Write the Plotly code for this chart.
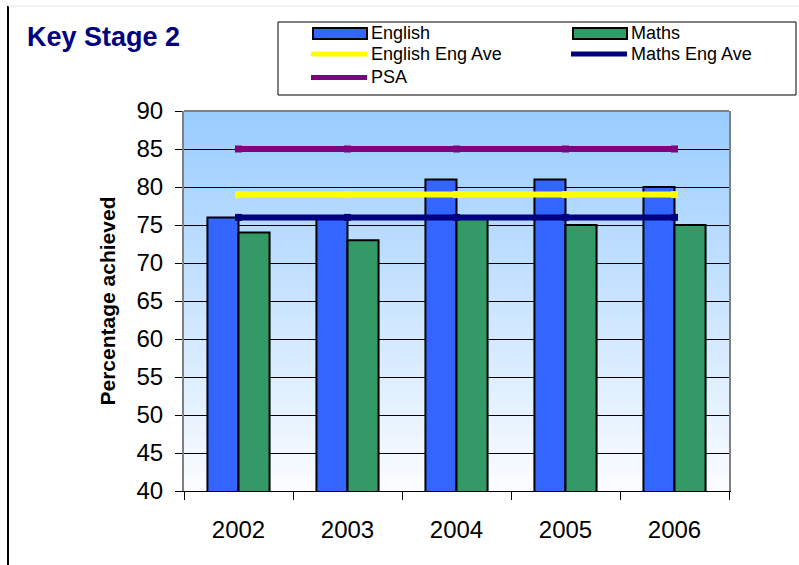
import plotly.graph_objects as go

# Key Stage 2 results by year
years = ["2002", "2003", "2004", "2005", "2006"]
english = [76, 76, 81, 81, 80]
maths = [74, 73, 76, 75, 75]
english_eng_ave = [79, 79, 79, 79, 79]
maths_eng_ave = [76, 76, 76, 76, 76]
psa = [85, 85, 85, 85, 85]
y_ticks = [40, 45, 50, 55, 60, 65, 70, 75, 80, 85, 90]

FONT = "Liberation Sans, Arial, sans-serif"
W, H = 799, 565
L, R, T, B = 184, 70, 111, 74
PW, PH = W - L - R, H - T - B


def px(x):
    """Pixel x -> paper x."""
    return (x - L) / PW


def py(y):
    """Pixel y -> paper y."""
    return (T + PH - y) / PH


C_ENG = "#3366FF"
C_MATHS = "#339966"
C_ENG_AVE = "#FFFF00"
C_MATHS_AVE = "#000080"
C_PSA = "#800080"

fig = go.Figure()
fig.add_trace(go.Bar(x=years, y=english, name="English",
                     marker=dict(color=C_ENG, line=dict(color="black", width=2))))
fig.add_trace(go.Bar(x=years, y=maths, name="Maths",
                     marker=dict(color=C_MATHS, line=dict(color="black", width=2))))
for vals, name, col in [(psa, "PSA", C_PSA),
                        (english_eng_ave, "English Eng Ave", C_ENG_AVE),
                        (maths_eng_ave, "Maths Eng Ave", C_MATHS_AVE)]:
    fig.add_trace(go.Scatter(x=years, y=vals, name=name, mode="lines+markers",
                             line=dict(color=col, width=6),
                             marker=dict(symbol="square", size=7, color=col)))

shapes = []
# vertical gradient behind the plot area (light blue at top, near white at bottom)
n = 95
top_rgb = (153, 204, 255)
bot_rgb = (250, 252, 255)
for i in range(n):
    t = i / (n - 1)
    c = tuple(round(top_rgb[k] + (bot_rgb[k] - top_rgb[k]) * t) for k in range(3))
    shapes.append(dict(type="rect", xref="x domain", yref="y domain",
                       x0=0, x1=1, y0=1 - (i + 1) / n, y1=1 - i / n + 0.002,
                       fillcolor="rgb(%d,%d,%d)" % c, line=dict(width=0),
                       layer="below"))
# grey top edge of the plot frame
shapes.append(dict(type="line", xref="paper", yref="paper", x0=0, x1=1, y0=1, y1=1,
                   line=dict(color="#808080", width=2), layer="above"))
# outer chart frame (left and top)
shapes.append(dict(type="line", xref="paper", yref="paper", x0=px(8), x1=px(8),
                   y0=py(6), y1=py(H + 5), line=dict(color="black", width=2)))
shapes.append(dict(type="line", xref="paper", yref="paper", x0=px(8), x1=px(W + 5),
                   y0=py(6), y1=py(6), line=dict(color="#e4e4e4", width=1)))

# legend box
shapes.append(dict(type="rect", xref="paper", yref="paper",
                   x0=px(278), x1=px(796), y0=py(95), y1=py(22),
                   fillcolor="white", line=dict(color="black", width=1)))

annotations = []
legend_items = [("English", "bar", C_ENG), ("Maths", "bar", C_MATHS),
                ("English Eng Ave", "line", C_ENG_AVE), ("Maths Eng Ave", "line", C_MATHS_AVE),
                ("PSA", "line", C_PSA)]
col_x = [313, 573]
row_y = [33.5, 54, 77.5]
for i, (name, kind, col) in enumerate(legend_items):
    cx = col_x[i % 2]
    ry = row_y[i // 2]
    if kind == "bar":
        shapes.append(dict(type="rect", xref="paper", yref="paper",
                           x0=px(cx), x1=px(cx + 54), y0=py(ry + 5.5), y1=py(ry - 5.5),
                           fillcolor=col, line=dict(color="black", width=2)))
    else:
        shapes.append(dict(type="line", xref="paper", yref="paper",
                           x0=px(cx - 2), x1=px(cx + 54), y0=py(ry), y1=py(ry),
                           line=dict(color=col, width=5)))
    annotations.append(dict(text=name, xref="paper", yref="paper", x=px(cx + 56), y=py(ry),
                            xanchor="left", yanchor="middle", showarrow=False,
                            font=dict(family=FONT, size=18, color="black")))

annotations.append(dict(text="<b>Key Stage 2</b>", xref="paper", yref="paper",
                        x=px(25), y=py(37), xanchor="left", yanchor="middle",
                        showarrow=False, font=dict(family=FONT, size=27, color="#000080")))

fig.update_layout(
    width=W, height=H,
    margin=dict(l=L, r=R, t=T, b=B, pad=0),
    paper_bgcolor="white", plot_bgcolor="rgba(0,0,0,0)",
    barmode="group", bargap=0.43, bargroupgap=0,
    showlegend=False,
    shapes=shapes, annotations=annotations,
    font=dict(family=FONT, color="black"),
    xaxis=dict(type="category", tickson="boundaries", ticks="outside", ticklen=8,
               tickcolor="black", tickwidth=1, showline=True, linecolor="black",
               linewidth=1, showgrid=False, tickfont=dict(size=24, family=FONT),
               ticklabelstandoff=17),
    yaxis=dict(range=[40, 90], tickvals=y_ticks, ticks="outside", ticklen=7,
               tickcolor="black", tickwidth=1, showline=True, linecolor="#808080",
               linewidth=2, mirror=True, showgrid=True, gridcolor="black", gridwidth=1,
               zeroline=False, tickfont=dict(size=24, family=FONT),
               ticklabelstandoff=7,
               title=dict(text="<b>Percentage achieved</b>", standoff=15,
                          font=dict(size=21, family=FONT))),
)

fig.write_html("out.html")
